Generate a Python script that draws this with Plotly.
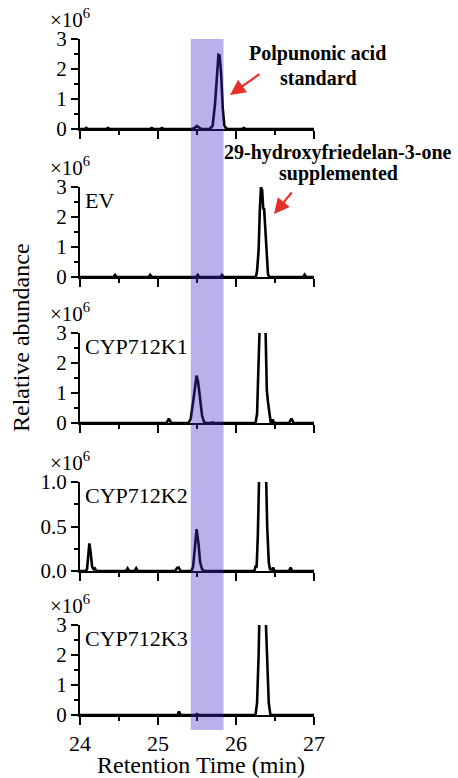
import plotly.graph_objects as go

# ---------------- data (intensity in units of 1e6) ----------------
std_t = [24.00, 24.06, 24.08, 24.10, 24.34, 24.36, 24.38, 24.90, 24.92, 24.94, 25.03, 25.05, 25.07,
         25.44, 25.47, 25.50, 25.53, 25.56, 25.66, 25.70, 25.73, 25.755, 25.775, 25.79, 25.81, 25.83,
         25.85, 25.87, 25.90, 26.08, 26.10, 26.12, 27.00]
std_y = [0, 0, 0.04, 0, 0, 0.03, 0, 0, 0.03, 0, 0, 0.03, 0,
         0, 0.04, 0.10, 0.04, 0, 0, 0.10, 0.80, 1.90, 2.47, 2.45, 1.80, 0.70,
         0.12, 0.03, 0, 0, 0.03, 0, 0]

ev_t = [24.00, 24.43, 24.45, 24.47, 24.88, 24.90, 24.92, 25.49, 25.51, 25.53, 25.80, 25.82, 25.84,
        26.255, 26.27, 26.29, 26.305, 26.32, 26.335, 26.35, 26.36, 26.375, 26.395, 26.41, 26.425,
        26.86, 26.88, 26.90, 27.00]
ev_y = [0, 0, 0.07, 0, 0, 0.07, 0, 0, 0.07, 0, 0, 0.07, 0,
        0, 0.20, 0.90, 2.20, 3.00, 2.90, 2.25, 2.30, 1.60, 0.60, 0.10, 0,
        0, 0.08, 0, 0]

k1_t = [24.00, 24.27, 24.29, 24.31, 24.48, 24.50, 24.52, 24.68, 24.70, 24.72, 24.82, 24.84, 24.86,
        25.11, 25.14, 25.17, 25.39, 25.42, 25.45, 25.475, 25.495, 25.515, 25.54, 25.565, 25.59, 25.62,
        25.68, 25.70, 25.72, 26.25, 26.27, 26.29, 26.31, 26.33, 26.355, 26.375, 26.385, 26.395, 26.41,
        26.43, 26.445, 26.46, 26.47, 26.485, 26.50, 26.68, 26.71, 26.74, 27.00]
k1_y = [0, 0, 0.02, 0, 0, 0.02, 0, 0, 0.02, 0, 0, 0.02, 0,
        0, 0.15, 0, 0, 0.15, 0.70, 1.30, 1.58, 1.35, 0.75, 0.25, 0.03, 0,
        0, 0.02, 0, 0, 0.30, 1.80, 3.80, 6.00, 5.50, 3.60, 1.60, 1.10, 0.70,
        0.20, 0.02, 0.03, 0.12, 0.02, 0, 0, 0.15, 0, 0]

k2_t = [24.00, 24.07, 24.09, 24.105, 24.12, 24.135, 24.155, 24.175, 24.19, 24.21,
        24.59, 24.61, 24.63, 24.70, 24.72, 24.74, 25.22, 25.245, 25.265, 25.29,
        25.43, 25.45, 25.47, 25.495, 25.52, 25.54, 25.565, 25.59,
        26.235, 26.25, 26.265, 26.28, 26.30, 26.33, 26.36, 26.385, 26.40, 26.42, 26.435,
        26.46, 26.475, 26.49, 26.50, 26.68, 26.70, 26.72, 27.00]
k2_y = [0, 0, 0.02, 0.15, 0.31, 0.22, 0.05, 0.02, 0.03, 0,
        0, 0.03, 0, 0, 0.03, 0, 0, 0.035, 0.04, 0,
        0, 0.05, 0.22, 0.47, 0.30, 0.10, 0.02, 0,
        0, 0.05, 0.05, 0.40, 1.20, 2.20, 2.00, 1.10, 0.50, 0.10, 0.02,
        0.01, 0.04, 0.01, 0, 0, 0.04, 0, 0]

k3_t = [24.00, 25.25, 25.27, 25.29, 25.48, 25.50, 25.52, 26.25, 26.27, 26.29, 26.31, 26.33,
        26.36, 26.38, 26.40, 26.42, 26.44, 26.46, 27.00]
k3_y = [0, 0, 0.12, 0, 0, 0.03, 0, 0, 0.40, 2.00, 4.50, 6.00,
        5.50, 3.30, 1.40, 0.40, 0.02, 0, 0]

panel_labels = ["", "EV", "CYP712K1", "CYP712K2", "CYP712K3"]
panel_t = [std_t, ev_t, k1_t, k2_t, k3_t]
panel_y = [std_y, ev_y, k1_y, k2_y, k3_y]
y_max = [3, 3, 3, 1.0, 3]
y_dtick = [1, 1, 1, 0.5, 1]
y_minor = [0.5, 0.5, 0.5, 0.25, 0.5]
y_format = ["d", "d", "d", ".1f", "d"]
x_ticks = [24, 25, 26, 27]
band = [25.42, 25.84]

# ---------------- layout geometry (pixels) ----------------
W, H = 458, 778
L, R = 80, 314
T, B = 39, 715
PW, PH = R - L, B - T
panels_px = [(39, 129), (187, 277), (333, 423), (482, 571), (625, 715)]


def px2x(px):
    return (px - L) / PW


def px2y(py):
    return (B - py) / PH


FONT = "Liberation Serif, Times New Roman, serif"

fig = go.Figure()
layout = dict(
    width=W, height=H,
    margin=dict(l=L, r=W - R, t=T, b=H - B),
    paper_bgcolor="white", plot_bgcolor="white",
    showlegend=False,
    font=dict(family=FONT, color="black", size=21),
)

annotations = []
for i in range(5):
    n = "" if i == 0 else str(i + 1)
    fig.add_trace(go.Scatter(
        x=panel_t[i], y=panel_y[i], mode="lines",
        line=dict(color="black", width=2.6),
        xaxis="x" + n, yaxis="y" + n, hoverinfo="skip",
    ))
    top, bot = panels_px[i]
    layout["xaxis" + n] = dict(
        domain=[0, 1], anchor="y" + n, range=[24, 27],
        tickvals=x_ticks, showticklabels=(i == 4),
        ticks="outside", ticklen=8, tickwidth=2, tickcolor="black",
        showline=True, linewidth=2, linecolor="black",
        showgrid=False, zeroline=False,
        minor=dict(dtick=0.5, tick0=24, ticks="outside", ticklen=4, tickwidth=2,
                   tickcolor="black", showgrid=False),
        tickfont=dict(size=22, family=FONT),
    )
    if i > 0:
        layout["xaxis" + n]["matches"] = "x"
    layout["yaxis" + n] = dict(
        domain=[px2y(bot), px2y(top)], anchor="x" + n, range=[0, y_max[i]],
        dtick=y_dtick[i], tick0=0, tickformat=y_format[i],
        ticks="outside", ticklen=7, tickwidth=2, tickcolor="black",
        showline=True, linewidth=2, linecolor="black",
        showgrid=False, zeroline=False,
        minor=dict(dtick=y_minor[i], tick0=0, ticks="outside", ticklen=4, tickwidth=2,
                   tickcolor="black", showgrid=False),
        tickfont=dict(size=21, family=FONT),
    )
    # x10^6 multiplier
    annotations.append(dict(
        text="×10<sup>6</sup>", xref="paper", yref="paper",
        x=px2x(48), y=px2y(top - 21), xanchor="left", yanchor="middle",
        showarrow=False, font=dict(size=21, family=FONT),
    ))
    if panel_labels[i]:
        annotations.append(dict(
            text=panel_labels[i], xref="paper", yref="paper",
            x=px2x(83), y=px2y(top + 13), xanchor="left", yanchor="middle",
            showarrow=False, font=dict(size=22, family=FONT),
        ))

# bold compound annotations
bold = dict(size=20, family=FONT)
for txt, cx, cy in [("Polpunonic acid", 317, 53), ("standard", 318, 78),
                    ("29-hydroxyfriedelan-3-one", 338, 152), ("supplemented", 338, 174)]:
    annotations.append(dict(
        text="<b>%s</b>" % txt, xref="paper", yref="paper",
        x=px2x(cx), y=px2y(cy), xanchor="center", yanchor="middle",
        showarrow=False, font=bold,
    ))

# red arrows (head, tail in pixels)
for (hx, hy), (tx, ty) in [((230, 95), (261, 73)), ((274, 214), (293, 191))]:
    annotations.append(dict(
        text="", xref="paper", yref="paper", x=px2x(hx), y=px2y(hy),
        ax=tx - hx, ay=ty - hy, showarrow=True,
        arrowhead=2, arrowsize=1.4, arrowwidth=2.2, arrowcolor="#e8302a",
    ))

# axis titles
annotations.append(dict(
    text="Retention Time (min)", xref="paper", yref="paper",
    x=px2x(201), y=px2y(765), xanchor="center", yanchor="middle",
    showarrow=False, font=dict(size=24, family=FONT),
))
annotations.append(dict(
    text="Relative abundance", xref="paper", yref="paper",
    x=px2x(21), y=px2y(338), xanchor="center", yanchor="middle", textangle=-90,
    showarrow=False, font=dict(size=24, family=FONT),
))
# panel letter (cut off at top, as in the source figure)
annotations.append(dict(
    text="<b>A</b>", xref="paper", yref="paper",
    x=px2x(0), y=px2y(6), xanchor="left", yanchor="bottom",
    showarrow=False, font=dict(size=24, family=FONT),
))

layout["annotations"] = annotations
layout["shapes"] = [dict(
    type="rect", xref="x5", yref="paper",
    x0=band[0], x1=band[1], y0=px2y(730), y1=px2y(39),
    fillcolor="rgb(70,40,200)", opacity=0.37, line=dict(width=0), layer="above",
)]

fig.update_layout(**layout)
fig.write_html(
    "out.html",
    config={"displayModeBar": False},
    post_script="document.body.style.margin='0';document.body.style.overflow='hidden';",
)
